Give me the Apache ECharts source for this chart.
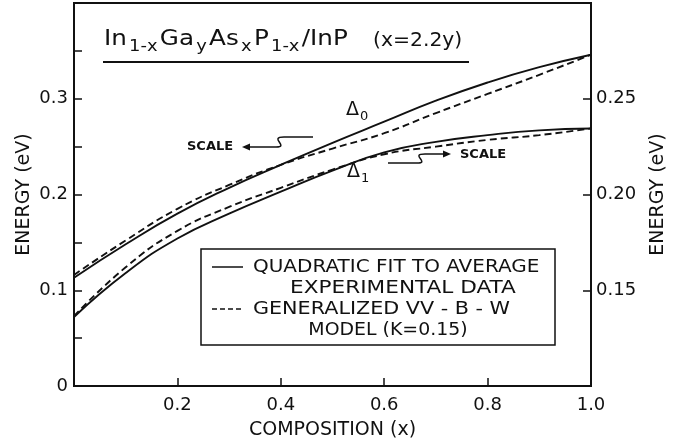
<!DOCTYPE html>
<html>
<head>
<meta charset="utf-8">
<script src="https://cdn.jsdelivr.net/npm/echarts@6/dist/echarts.min.js"></script>
<style>
html, body { margin: 0; background: #fff; }
#main { width: 676px; height: 440px; }
</style>
</head>
<body>
<div id="main"></div>
<script>
// composition x and the four curves
const composition = [0, 0.1, 0.2, 0.3, 0.4, 0.5, 0.6, 0.7, 0.8, 0.9, 1.0];
// Delta_0, left scale (eV)
const delta0Fit = [0.113, 0.148, 0.180, 0.207, 0.231, 0.254, 0.276, 0.298, 0.317, 0.333, 0.346];
const delta0Model = [0.116, 0.152, 0.185, 0.210, 0.231, 0.248, 0.264, 0.285, 0.305, 0.325, 0.346];
// Delta_1, right scale (eV)
const delta1Fit = [0.136, 0.159, 0.177, 0.190, 0.2015, 0.2125, 0.222, 0.2275, 0.231, 0.2335, 0.2345];
const delta1Model = [0.1365, 0.162, 0.181, 0.1935, 0.2035, 0.213, 0.221, 0.225, 0.2285, 0.231, 0.2345];

const xTickLabels = ['0.2', '0.4', '0.6', '0.8', '1.0'];
const leftTickLabels = ['0', '0.1', '0.2', '0.3'];
const rightTickLabels = ['0.15', '0.20', '0.25'];

const FIT = 'QUADRATIC FIT TO AVERAGE EXPERIMENTAL DATA';
const MODEL = 'GENERALIZED VV-B-W MODEL (K=0.15)';

const chartDom = document.getElementById('main');
const myChart = echarts.init(chartDom);

const ink = '#111';
const font = 'DejaVu Sans';

let pairs = function(ys) {
	return composition.map((x, i) => [x, ys[i]]);
};

let curve = function(name, ys, axis, dashed) {
	return {
		type: 'line',
		name: name,
		yAxisIndex: axis,
		data: pairs(ys),
		smooth: true,
		symbol: 'none',
		silent: true,
		lineStyle: {
			color: ink,
			width: 1.9,
			type: dashed ? [7, 4] : 'solid'
		}
	};
};

let labelStyle = {
	color: ink,
	fontFamily: font,
	fontSize: 18
};

let nameStyle = { color: ink, fontFamily: font, fontSize: 19 };

// plain text piece for the graphic layer
let note = function(x, y, text, size, sx, align, weight) {
	return {
		type: 'text',
		x: x,
		y: y,
		scaleX: sx || 1,
		style: {
			text: text,
			fill: ink,
			fontFamily: font,
			fontSize: size,
			fontWeight: weight || 'normal',
			align: align || 'left',
			verticalAlign: 'middle'
		}
	};
};

let stroke = { stroke: ink, lineWidth: 1.5, fill: null };

let option = {
	backgroundColor: '#fff',
	animation: false,
	grid: {
		left: 74,
		right: 85,
		top: 3,
		bottom: 54,
		outerBoundsMode: 'none',
		show: true,
		borderColor: ink,
		borderWidth: 2
	},
	xAxis: {
		type: 'value',
		min: 0,
		max: 1,
		interval: 0.2,
		name: 'COMPOSITION (x)',
		nameLocation: 'middle',
		nameGap: 35,
		nameTextStyle: nameStyle,
		axisLine: { onZero: false, lineStyle: { color: ink, width: 2 } },
		axisTick: { inside: true, length: 8, lineStyle: { color: ink, width: 1.5 } },
		splitLine: { show: false },
		axisLabel: Object.assign({
			margin: 10,
			formatter: (v) => {
				let s = v.toFixed(1);
				return xTickLabels.includes(s) ? s : '';
			}
		}, labelStyle)
	},
	yAxis: [{
			type: 'value',
			position: 'left',
			min: 0,
			max: 0.4,
			interval: 0.05,
			name: 'ENERGY (eV)',
			nameLocation: 'middle',
			nameGap: 40,
			nameMoveOverlap: false,
			nameRotate: 90,
			nameTextStyle: nameStyle,
			axisLine: { show: true, lineStyle: { color: ink, width: 2 } },
			axisTick: { inside: true, length: 8, lineStyle: { color: ink, width: 1.5 } },
			splitLine: { show: false },
			axisLabel: Object.assign({
				margin: 6,
				formatter: (v) => {
					let s = (Math.round(v * 100) % 10 === 0) ? String(Math.round(v * 10) / 10) : '';
					return leftTickLabels.includes(s) ? s : '';
				}
			}, labelStyle)
		},
		{
			type: 'value',
			position: 'right',
			min: 0.1,
			max: 0.3,
			interval: 0.05,
			name: 'ENERGY (eV)',
			nameLocation: 'middle',
			nameGap: 58,
			nameRotate: 90,
			nameTextStyle: nameStyle,
			axisLine: { show: true, lineStyle: { color: ink, width: 2 } },
			axisTick: { inside: true, length: 8, lineStyle: { color: ink, width: 1.5 } },
			splitLine: { show: false },
			axisLabel: Object.assign({
				margin: 5,
				formatter: (v) => {
					let s = v.toFixed(2);
					return rightTickLabels.includes(s) ? s : '';
				}
			}, labelStyle)
		}
	],
	series: [
		curve(FIT, delta0Fit, 0, false),
		curve(MODEL, delta0Model, 0, true),
		curve(FIT, delta1Fit, 1, false),
		curve(MODEL, delta1Model, 1, true)
	],
	graphic: [
		// title with subscripts
		{
			type: 'text',
			x: 104,
			y: 23,
			scaleX: 1.12,
			style: {
				text: '{m|In}{s|1-x}{m|Ga}{s|y}{m|As}{s|x}{m|P}{s|1-x}{m|/InP}',
				fill: ink,
				rich: {
					m: { fontFamily: font, fontSize: 22, fill: ink },
					s: { fontFamily: font, fontSize: 16, fill: ink, padding: [16, 2, 0, 2] }
				}
			}
		},
		note(373, 41, '(x=2.2y)', 19, 1.07),
		{
			type: 'line',
			shape: { x1: 103, y1: 62, x2: 469, y2: 62 },
			style: { stroke: ink, lineWidth: 2 }
		},
		// curve names
		{
			type: 'text',
			x: 346,
			y: 98,
			style: {
				text: '{m|Δ}{s|0}',
				rich: {
					m: { fontFamily: font, fontSize: 19, fill: ink },
					s: { fontFamily: font, fontSize: 13, fill: ink, padding: [12, 0, 0, 1] }
				}
			}
		},
		{
			type: 'text',
			x: 347,
			y: 160,
			style: {
				text: '{m|Δ}{s|1}',
				rich: {
					m: { fontFamily: font, fontSize: 19, fill: ink },
					s: { fontFamily: font, fontSize: 13, fill: ink, padding: [12, 0, 0, 1] }
				}
			}
		},
		// scale pointers
		note(187, 147, 'SCALE', 13, 1, 'left', 'bold'),
		{ type: 'polyline', shape: { points: [[245, 147], [276, 147]] }, style: stroke },
		{
			type: 'bezierCurve',
			shape: { x1: 276, y1: 147, cpx1: 290, cpy1: 147, cpx2: 268, cpy2: 137, x2: 284, y2: 137 },
			style: stroke
		},
		{ type: 'polyline', shape: { points: [[284, 137], [313, 137]] }, style: stroke },
		{ type: 'polygon', shape: { points: [[242, 147], [250, 143.5], [250, 150.5]] }, style: { fill: ink } },
		{ type: 'polyline', shape: { points: [[388, 163], [417, 163]] }, style: stroke },
		{
			type: 'bezierCurve',
			shape: { x1: 417, y1: 163, cpx1: 431, cpy1: 163, cpx2: 409, cpy2: 154, x2: 425, y2: 154 },
			style: stroke
		},
		{ type: 'polyline', shape: { points: [[425, 154], [447, 154]] }, style: stroke },
		{ type: 'polygon', shape: { points: [[451, 154], [443, 150.5], [443, 157.5]] }, style: { fill: ink } },
		note(460, 155, 'SCALE', 13, 1, 'left', 'bold'),
		// key box
		{
			type: 'rect',
			shape: { x: 201, y: 249, width: 354, height: 96 },
			style: { stroke: ink, lineWidth: 1.5, fill: '#fff' }
		},
		{
			type: 'line',
			shape: { x1: 212, y1: 267, x2: 243, y2: 267 },
			style: { stroke: ink, lineWidth: 1.5 }
		},
		{
			type: 'line',
			shape: { x1: 212, y1: 309, x2: 243, y2: 309 },
			style: { stroke: ink, lineWidth: 1.5, lineDash: [5, 3] }
		},
		note(253, 267, 'QUADRATIC FIT TO AVERAGE', 18, 1.11),
		note(403, 288, 'EXPERIMENTAL DATA', 18, 1.2, 'center'),
		note(253, 309, 'GENERALIZED VV - B - W', 18, 1.15),
		note(388, 330, 'MODEL (K=0.15)', 18, 1.05, 'center')
	]
};

myChart.setOption(option);
</script>
</body>
</html>
